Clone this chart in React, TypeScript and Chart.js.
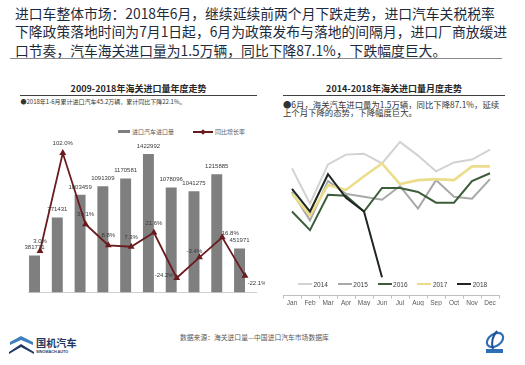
import React, { useEffect, useRef } from "react";
import { Chart, registerables } from "chart.js";

Chart.register(...registerables);

// ---------- data ----------
const years = ["2009", "2010", "2011", "2012", "2013", "2014", "2015", "2016", "2017", "2018YTD"];
const importVolume = [381771, 771431, 1003459, 1091309, 1170581, 1422992, 1078096, 1041275, 1215885, 451971];
const growthRate = [3.0, 102.0, 30.1, 8.8, 7.3, 21.6, -24.2, -3.4, 16.8, -22.1];

const months = ["Jan", "Feb", "Mar", "Apr", "May", "Jun", "Jul", "Aug", "Sep", "Oct", "Nov", "Dec"];
const seriesYears = ["2014", "2015", "2016", "2017", "2018"];
const imports2014 = [12.6, 9.0, 13.0, 14.0, 14.1, 13.1, 15.3, 13.9, 12.3, 13.2, 13.5, 14.5];
const imports2015 = [10.2, 7.3, 11.3, 10.0, 9.7, 9.4, 10.8, 8.5, 11.4, 9.7, 9.5, 11.5];
const imports2016 = [8.2, 6.3, 9.9, 9.8, 8.2, 10.6, 10.6, 10.2, 9.1, 9.1, 11.3, 12.1];
const imports2017 = [10.0, 7.8, 10.9, 10.4, 11.8, 13.1, 11.0, 11.4, 11.5, 11.4, 12.8, 12.8];
const imports2018 = [10.5, 8.2, 12.0, 9.6, 8.2, 1.5];

// ---------- styles ----------
const LATIN = '"Liberation Sans", Arial, sans-serif';
const CJK = '"Noto Sans CJK SC", "Noto Sans", sans-serif';
const seriesColors = ["#d2d2d2", "#a8a8a8", "#3c5c3a", "#ebdd8c", "#1d2620"];
const seriesWidths = [2, 2, 2, 2.6, 2];
const ratePlacement = ["top", "top", "top", "top", "top", "top", "left", "topLeft", "topRight", "bottomRight"];

function LeftChart() {
  const ref = useRef<HTMLCanvasElement>(null);
  useEffect(() => {
    if (!ref.current) return;
    const labelPlugin = {
      id: "valueLabels",
      afterDatasetsDraw(chart: any) {
        const ctx = chart.ctx;
        ctx.save();
        ctx.font = `6px ${LATIN}`;
        ctx.fillStyle = "#3a3a3a";
        ctx.textBaseline = "middle";
        ctx.textAlign = "center";
        chart.getDatasetMeta(0).data.forEach((el: any, i: number) => {
          ctx.fillText(String(importVolume[i]), el.x, el.y - 8);
        });
        chart.getDatasetMeta(2).data.forEach((el: any, i: number) => {
          const txt = growthRate[i].toFixed(1) + "%";
          const p = ratePlacement[i];
          let x = el.x;
          let y = el.y - 9.5;
          ctx.textAlign = "center";
          if (p === "left") {
            x = el.x - 3;
            y = el.y - 3;
            ctx.textAlign = "right";
          } else if (p === "topLeft") {
            x = el.x - 5;
            y = el.y - 6.5;
          } else if (p === "topRight") {
            x = el.x + 8;
            y = el.y - 4;
          } else if (p === "bottomRight") {
            x = el.x + 12;
            y = el.y + 7;
          }
          ctx.fillText(txt, x, y);
        });
        ctx.restore();
      },
    };
    const chart = new Chart(ref.current, {
      type: "bar",
      data: {
        labels: years,
        datasets: [
          {
            type: "bar",
            label: "进口汽车进口量",
            data: importVolume,
            backgroundColor: "#7f7f7f",
            yAxisID: "y",
            order: 2,
            barPercentage: 1,
            categoryPercentage: 0.96,
          },
          {
            type: "bar",
            label: "",
            data: years.map(() => null),
            yAxisID: "y",
            order: 3,
            barPercentage: 1,
            categoryPercentage: 0.96,
          },
          {
            type: "line",
            label: "同比增长率",
            data: growthRate,
            yAxisID: "y2",
            borderColor: "#6a1b1e",
            borderWidth: 1.8,
            pointStyle: "triangle",
            pointRadius: 2.2,
            pointBackgroundColor: "#6a1b1e",
            pointBorderColor: "#6a1b1e",
            tension: 0,
            order: 1,
          },
        ],
      } as any,
      options: {
        animation: false,
        responsive: false,
        maintainAspectRatio: false,
        layout: { padding: { left: 18.6, right: 8.6, top: 15, bottom: 7.4 } },
        plugins: { legend: { display: false }, tooltip: { enabled: false } },
        scales: {
          x: {
            grid: { display: false },
            border: { color: "#d0d0d0" },
            ticks: { font: { size: 5.5, family: LATIN }, color: "#707070", padding: 2, maxRotation: 0, autoSkip: false },
            afterFit: (s: any) => {
              s.height = 10;
            },
          },
          y: { display: false, min: 0, max: 1566700 },
          y2: { display: false, min: -39, max: 115.15, position: "right" },
        },
      } as any,
      plugins: [labelPlugin],
    });
    return () => chart.destroy();
  }, []);
  return (
    <canvas
      ref={ref}
      width={255}
      height={185}
      style={{ position: "absolute", left: 10, top: 125, width: 255, height: 185 }}
    />
  );
}

function RightChart() {
  const ref = useRef<HTMLCanvasElement>(null);
  useEffect(() => {
    if (!ref.current) return;
    const series = [imports2014, imports2015, imports2016, imports2017, imports2018];
    const chart = new Chart(ref.current, {
      type: "line",
      data: {
        labels: months,
        datasets: seriesYears.map((name, i) => ({
          label: name,
          data: series[i],
          borderColor: seriesColors[i],
          borderWidth: seriesWidths[i],
          pointRadius: 0,
          tension: 0,
          fill: false,
          order: 5 - i,
        })),
      },
      options: {
        animation: false,
        responsive: false,
        maintainAspectRatio: false,
        layout: { padding: { left: 13, right: 11, top: 10, bottom: 4.3 } },
        plugins: { legend: { display: false }, tooltip: { enabled: false } },
        scales: {
          x: {
            offset: true,
            grid: { offset: true, drawOnChartArea: false, drawTicks: true, tickLength: 3, color: "#bfbfbf" },
            border: { color: "#bfbfbf" },
            ticks: { font: { size: 6.5, family: LATIN }, color: "#595959", padding: 1, maxRotation: 0, autoSkip: false },
            afterFit: (s: any) => {
              s.height = 10;
            },
          },
          y: { display: false, min: -0.38, max: 16.0 },
        },
      } as any,
    });
    return () => chart.destroy();
  }, []);
  return (
    <canvas
      ref={ref}
      width={240}
      height={185}
      style={{ position: "absolute", left: 270, top: 125, width: 240, height: 185 }}
    />
  );
}

const abs = (o: any): any => ({ position: "absolute", whiteSpace: "nowrap", ...o });

export default function App() {
  return (
    <div style={{ position: "absolute", left: 0, top: 0, width: 525, height: 365, background: "#ffffff", overflow: "hidden" }}>
      {/* headline */}
      <div style={abs({ left: 15, top: 4.2, fontSize: 13.8, lineHeight: "18.2px", color: "#1c2a3c", fontFamily: CJK })}>
        进口车整体市场：2018年6月，继续延续前两个月下跌走势，进口汽车关税税率
        <br />
        下降政策落地时间为7月1日起，6月为政策发布与落地的间隔月，进口厂商放缓进
        <br />
        口节奏，汽车海关进口量为1.5万辆，同比下降87.1%，下跌幅度巨大。
      </div>
      <div style={abs({ left: 10, top: 57.5, width: 492, height: 1.5, background: "#8a8a8a" })} />

      {/* left panel titles */}
      <div style={abs({ left: 20, width: 237, top: 83, textAlign: "center", fontSize: 9, lineHeight: "12px", fontWeight: 700, color: "#262626", fontFamily: CJK })}>
        2009-2018年海关进口量年度走势
      </div>
      <div style={abs({ left: 20, top: 95.2, width: 237, height: 1, background: "#404040" })} />
      <div style={abs({ left: 20.5, top: 97.7, fontSize: 6, lineHeight: "8px", color: "#333333", fontFamily: CJK })}>
        ●2018年1-6月累计进口汽车45.2万辆，累计同比下降22.1%。
      </div>

      {/* left legend */}
      <div style={abs({ left: 118, top: 130.3, width: 12, height: 3, background: "#7f7f7f" })} />
      <div style={abs({ left: 132, top: 128, fontSize: 6, lineHeight: "7px", color: "#595959", fontFamily: CJK })}>进口汽车进口量</div>
      <div style={abs({ left: 193, top: 131, width: 20, height: 1.6, background: "#6a1b1e" })} />
      <div style={abs({ left: 201, top: 129.5, width: 4, height: 4, background: "#6a1b1e", transform: "rotate(45deg)" })} />
      <div style={abs({ left: 215, top: 128, fontSize: 6, lineHeight: "7px", color: "#595959", fontFamily: CJK })}>同比增长率</div>

      {/* right panel titles */}
      <div style={abs({ left: 283, width: 222, top: 83, textAlign: "center", fontSize: 9, lineHeight: "12px", fontWeight: 700, color: "#262626", fontFamily: CJK })}>
        2014-2018年海关进口量月度走势
      </div>
      <div style={abs({ left: 283, top: 95.2, width: 222, height: 1, background: "#404040" })} />
      <div style={abs({ left: 283, top: 99.5, fontSize: 8.4, lineHeight: "8.8px", color: "#333333", fontFamily: CJK })}>
        ●6月，海关汽车进口量为1.5万辆，同比下降87.1%，延续
        <br />
        上个月下降的态势，下降幅度巨大。
      </div>

      <LeftChart />
      <RightChart />

      {/* right legend */}
      {seriesYears.map((name, i) => (
        <React.Fragment key={name}>
          <div style={abs({ left: 298 + i * 39.8, top: 282.8, width: 14, height: 2.4, background: seriesColors[i] })} />
          <div style={abs({ left: 313.5 + i * 39.8, top: 280.5, fontSize: 6.5, lineHeight: "7px", color: "#404040", fontFamily: LATIN })}>{name}</div>
        </React.Fragment>
      ))}

      {/* footer */}
      <div style={abs({ left: 180, top: 333, fontSize: 6.8, lineHeight: "8px", color: "#595959", fontFamily: CJK })}>
        数据来源：海关进口量—中国进口汽车市场数据库
      </div>

      {/* left logo */}
      <svg style={{ position: "absolute", left: 8, top: 333 }} width={28} height={22} viewBox="0 0 28 22">
        <polygon points="2,9 13,3 25,9 25,12 13,7 2,12" fill="#3f7fc0" />
        <polygon points="1,19 13,11 26,19 26,21 13,14 1,21" fill="#1f3864" />
      </svg>
      <div style={abs({ left: 36, top: 337, fontSize: 10.2, lineHeight: "12px", fontWeight: 700, color: "#1f3864", fontFamily: CJK })}>国机汽车</div>
      <div style={abs({ left: 36, top: 349.5, fontSize: 3.8, lineHeight: "4px", color: "#1f3864", fontFamily: LATIN, fontWeight: 700 })}>SINOMACH AUTO</div>

      {/* right logo */}
      <svg style={{ position: "absolute", left: 483, top: 329 }} width={24} height={26} viewBox="0 0 24 26">
        <ellipse cx="12" cy="11" rx="9" ry="6" fill="none" stroke="#2f6db5" strokeWidth="2.2" transform="rotate(-35 12 11)" />
        <path d="M14 2 C 9 8, 8 14, 10 20" fill="none" stroke="#1f4f96" strokeWidth="2" />
        <rect x="3" y="20" width="17" height="4" fill="#2f6db5" />
      </svg>
    </div>
  );
}
